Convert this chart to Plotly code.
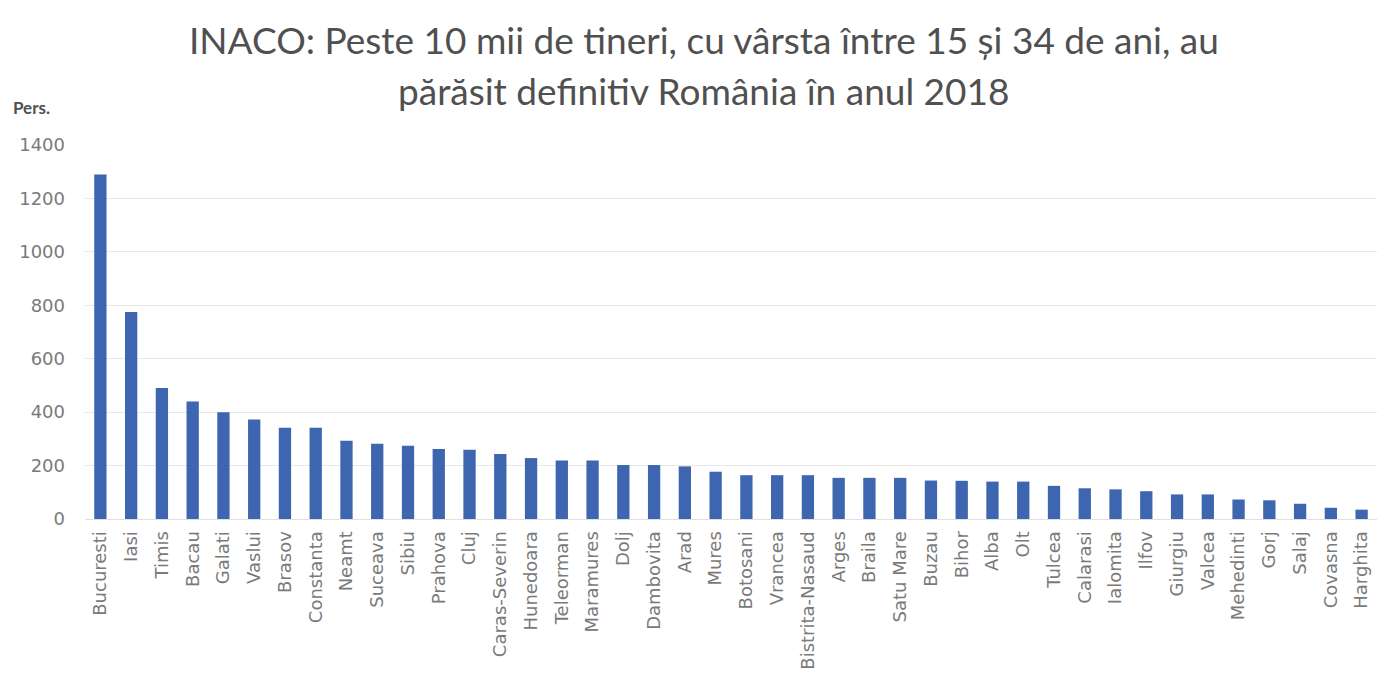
import plotly.graph_objects as go

judete = ["Bucuresti", "Iasi", "Timis", "Bacau", "Galati", "Vaslui", "Brasov", "Constanta",
          "Neamt", "Suceava", "Sibiu", "Prahova", "Cluj", "Caras-Severin", "Hunedoara",
          "Teleorman", "Maramures", "Dolj", "Dambovita", "Arad", "Mures", "Botosani",
          "Vrancea", "Bistrita-Nasaud", "Arges", "Braila", "Satu Mare", "Buzau", "Bihor",
          "Alba", "Olt", "Tulcea", "Calarasi", "Ialomita", "Ilfov", "Giurgiu", "Valcea",
          "Mehedinti", "Gorj", "Salaj", "Covasna", "Harghita"]
persoane = [1290, 775, 490, 440, 400, 372, 342, 342, 293, 282, 274, 262, 259, 243, 228,
            219, 219, 202, 202, 197, 177, 164, 164, 164, 154, 154, 154, 144, 143,
            140, 140, 124, 115, 111, 104, 92, 92, 73, 70, 57, 42, 35]
y_ticks = [0, 200, 400, 600, 800, 1000, 1200, 1400]

title_l1 = "INACO: Peste 10 mii de tineri, cu vârsta între 15 și 34 de ani, au"
title_l2 = "părăsit definitiv România în anul 2018"

fig = go.Figure(go.Bar(x=judete, y=persoane, marker=dict(color="#3D65B0", line=dict(width=0))))

fig.update_layout(
    width=1400, height=700,
    paper_bgcolor="white", plot_bgcolor="white",
    margin=dict(l=77, r=31, t=137, b=189),
    bargap=0.6,
    showlegend=False,
    font=dict(family="DejaVu Sans, sans-serif", color="#7a7a7a"),
)
fig.update_xaxes(tickangle=-90, tickfont=dict(family="DejaVu Sans", size=18, color="#7a7a7a"),
                 showline=True, linecolor="#e0e0e0", ticks="", showgrid=False,
                 ticklabelstandoff=4)
fig.update_yaxes(range=[0, 1400], tickvals=y_ticks,
                 tickfont=dict(family="DejaVu Sans", size=18, color="#7a7a7a"),
                 showgrid=True, gridcolor="#e8e8e8", zeroline=False, ticks="",
                 ticklabelstandoff=19)
title_font = dict(family="Lato, Open Sans, sans-serif", size=37, color="#505050")
fig.add_annotation(text=title_l1, xref="paper", yref="paper", x=0.479, y=1.283,
                   xanchor="center", yanchor="middle", showarrow=False, font=title_font)
fig.add_annotation(text=title_l2, xref="paper", yref="paper", x=0.479, y=1.147,
                   xanchor="center", yanchor="middle", showarrow=False, font=title_font)
fig.add_annotation(text="<b>Pers.</b>", xref="paper", yref="paper", x=-0.057, y=1.099,
                   xanchor="left", yanchor="middle", showarrow=False,
                   font=dict(family="Lato, sans-serif", size=17, color="#505050"))

fig.write_html("out.html")
